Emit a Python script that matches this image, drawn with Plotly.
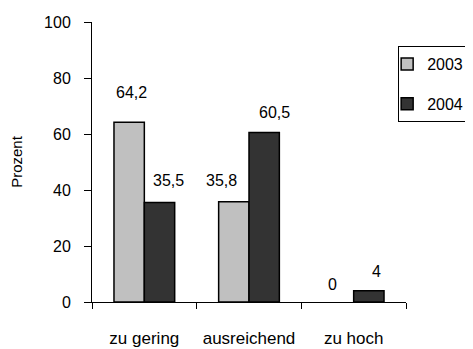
import plotly.graph_objects as go

categories = ["zu gering", "ausreichend", "zu hoch"]
series_names = ["2003", "2004"]
values_2003 = [64.2, 35.8, 0]
values_2004 = [35.5, 60.5, 4]
labels_2003 = ["64,2", "35,8", "0"]
labels_2004 = ["35,5", "60,5", "4"]
y_ticks = [0, 20, 40, 60, 80, 100]

# label offsets (pixels) relative to bar tops
xshift_2003 = [2, -12, -6]
yshift_2003 = [30, 21, 18]
xshift_2004 = [9, 10, 8]
yshift_2004 = [22, 20, 19]

FONT = "Liberation Sans, Arial, sans-serif"
FS = 16
colors = {"2003": "#C0C0C0", "2004": "#333333"}

fig = go.Figure()
for name, vals in zip(series_names, [values_2003, values_2004]):
    fig.add_trace(go.Bar(
        x=categories, y=vals, name=name, legendgroup=name,
        marker=dict(color=colors[name],
                    line=dict(color="#000000",
                              width=[1.5 if v else 0 for v in vals])),
    ))

annotations = []
for i, cat in enumerate(categories):
    for vals, labs, xs, ys, off in [
        (values_2003, labels_2003, xshift_2003, yshift_2003, -0.145),
        (values_2004, labels_2004, xshift_2004, yshift_2004, 0.145),
    ]:
        annotations.append(dict(
            x=i + off, y=vals[i], xref="x", yref="y", text=labs[i],
            showarrow=False, xshift=xs[i], yshift=ys[i],
            font=dict(family=FONT, size=FS, color="#000000"),
        ))

# the page body has an 8px default margin, margins compensate for it
fig.update_layout(
    width=473, height=349,
    margin=dict(l=84, r=73, t=14, b=55),
    paper_bgcolor="white", plot_bgcolor="white",
    barmode="group", bargap=0.42, bargroupgap=0,
    font=dict(family=FONT, size=FS, color="#000000"),
    showlegend=True,
    legend=dict(
        x=0.975, y=0.914, xanchor="left", yanchor="top",
        bordercolor="#000000", borderwidth=1, bgcolor="white",
        font=dict(family=FONT, size=FS, color="#000000"),
        traceorder="grouped", tracegroupgap=16,
        itemwidth=30, indentation=-12,
    ),
    annotations=annotations,
)
fig.update_xaxes(
    type="category", showline=True, linecolor="#000000", linewidth=1,
    ticks="outside", tickson="boundaries", ticklen=6, tickcolor="#000000",
    ticklabelstandoff=21, showgrid=False, zeroline=False, automargin=False,
    tickfont=dict(family=FONT, size=17),
)
fig.update_yaxes(
    range=[0, 100], tickvals=y_ticks, showline=True, linecolor="#000000",
    linewidth=1, ticks="outside", ticklen=7, tickcolor="#000000",
    ticklabelstandoff=10, showgrid=False, zeroline=False, automargin=False,
    title=dict(text="Prozent", standoff=18, font=dict(family=FONT, size=15)),
)

fig.write_html("out.html")
